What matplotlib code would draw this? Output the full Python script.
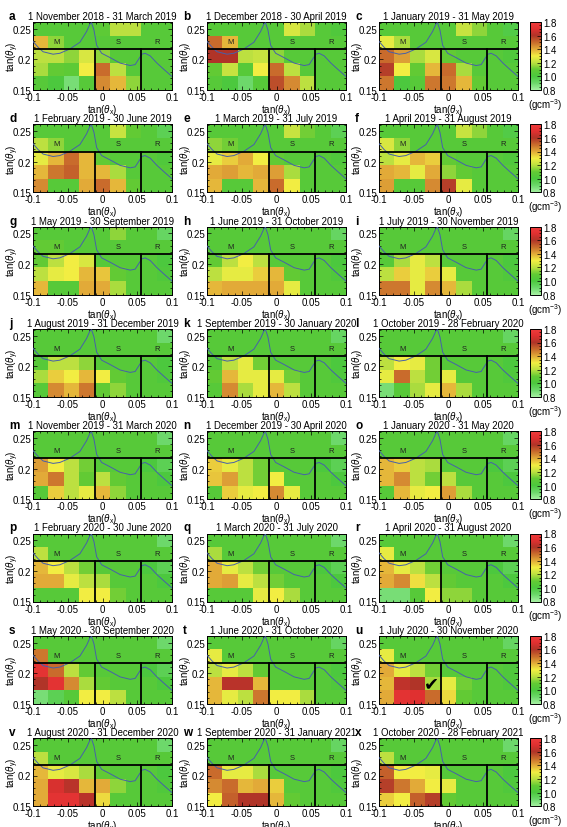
import numpy as np
import matplotlib
matplotlib.use('Agg')
import matplotlib.pyplot as plt
from matplotlib.colors import LinearSegmentedColormap, Normalize
from matplotlib.ticker import FixedLocator, MultipleLocator, FixedFormatter

plt.rcParams['font.family'] = ['Liberation Sans', 'DejaVu Sans']
plt.rcParams['mathtext.fontset'] = 'custom'
plt.rcParams['mathtext.rm'] = 'Liberation Sans'
plt.rcParams['mathtext.it'] = 'Liberation Sans:italic'

# ---------------- data ----------------
letters = list("abcdefghijklmnopqrstuvwx")
titles = [
    "1 November 2018 - 31 March 2019", "1 December 2018 - 30 April 2019", "1 January 2019 - 31 May 2019",
    "1 February 2019 - 30 June 2019", "1 March 2019 - 31 July 2019", "1 April 2019 - 31 August 2019",
    "1 May 2019 - 30 September 2019", "1 June 2019 - 31 October 2019", "1 July 2019 - 30 November 2019",
    "1 August 2019 - 31 December 2019", "1 September 2019 - 30 January 2020", "1 October 2019 - 28 February 2020",
    "1 November 2019 - 31 March 2020", "1 December 2019 - 30 April 2020", "1 January 2020 - 31 May 2020",
    "1 February 2020 - 30 June 2020", "1 March 2020 - 31 July 2020", "1 April 2020 - 31 August 2020",
    "1 May 2020 - 30 September 2020", "1 June 2020 - 31 October 2020", "1 July 2020 - 30 November 2020",
    "1 August 2020 - 31 December 2020", "1 September 2020 - 31 January 2021", "1 October 2020 - 28 February 2021",
]

# density maps (g cm^-3), rows listed top -> bottom, 9 columns left -> right
G = 1.05
dens_a = [[G, G, G, G, 1.08, 1.2, 1.2, G, G],
          [1.38, 1.15, G, G, G, G, G, G, G],
          [1.2, 1.2, 1.15, 1.25, 1.15, G, G, G, G],
          [1.18, 1.1, 1.08, 1.3, 1.5, 1.2, G, G, G],
          [G, 1.0, 0.88, G, 1.45, 1.38, 1.15, G, G]]
dens_b = [[G, G, G, G, G, 1.25, 1.18, G, 1.02],
          [1.5, 1.38, G, G, G, G, G, G, G],
          [1.6, 1.6, 1.2, 1.22, 1.15, G, G, G, G],
          [1.1, 1.22, G, 1.3, 1.5, 1.2, G, G, G],
          [G, 1.0, 0.9, G, 1.55, 1.45, 1.2, G, G]]
dens_c = [[G, G, G, G, G, 1.22, 1.15, G, 0.98],
          [1.28, 1.18, G, G, G, G, G, G, G],
          [1.5, 1.42, 1.18, 1.25, 1.1, G, G, G, 1.02],
          [1.58, 1.3, 1.1, 1.38, 1.5, 1.18, G, G, G],
          [1.48, 1.0, G, 1.48, 1.48, 1.38, 1.1, G, G]]
dens_d = [[G, G, G, G, G, 1.22, 1.1, G, 0.95],
          [1.2, 1.15, G, G, G, G, G, G, G],
          [1.28, 1.38, 1.5, 1.38, 1.1, G, G, G, 1.02],
          [1.38, 1.48, 1.52, 1.38, 1.38, 1.18, G, G, G],
          [1.45, G, G, 1.4, 1.5, 1.38, 1.1, G, G]]
dens_e = [[G, G, G, G, G, 1.22, 1.12, G, 0.95],
          [1.15, 1.12, G, G, G, G, G, G, G],
          [1.28, 1.35, 1.4, 1.3, 1.1, G, G, G, 1.02],
          [1.4, 1.42, 1.38, 1.4, 1.42, 1.18, G, G, G],
          [1.38, G, G, 1.38, 1.5, 1.3, G, G, G]]
dens_f = [[G, G, G, G, G, 1.22, 1.15, G, 0.98],
          [1.25, 1.15, G, G, G, G, G, G, G],
          [1.2, 1.28, 1.38, 1.35, 1.1, G, G, G, 1.02],
          [1.4, 1.38, 1.28, 1.4, 1.15, 1.1, G, G, G],
          [1.42, G, G, 1.45, 1.58, 1.28, G, G, G]]
dens_g = [[G, G, G, G, G, 1.15, G, G, 0.92],
          [1.1, 1.1, G, G, G, G, G, G, G],
          [1.1, 1.2, 1.3, 1.25, G, G, G, G, 1.0],
          [1.2, 1.28, 1.3, 1.38, 1.36, 1.1, G, G, 1.02],
          [1.38, G, G, 1.4, 1.4, 1.18, G, G, G]]
dens_h = [[G, G, G, G, G, G, G, G, 0.92],
          [G, G, G, G, G, G, G, G, G],
          [1.1, 1.2, 1.3, 1.2, G, G, G, G, 1.0],
          [1.2, 1.28, 1.28, 1.35, 1.38, 1.1, G, G, 1.02],
          [1.38, 1.4, 1.4, 1.4, 1.4, 1.28, G, G, G]]
dens_i = [[G, G, G, G, G, G, G, G, 0.92],
          [G, G, G, G, G, G, G, G, G],
          [G, 1.18, 1.28, 1.2, G, G, G, G, 1.0],
          [1.2, 1.35, 1.28, 1.35, 1.28, G, G, G, 1.02],
          [1.48, 1.48, 1.28, 1.45, 1.38, 1.18, G, G, G]]
dens_j = [[G, G, G, G, G, G, G, G, 0.9],
          [G, G, G, G, G, G, G, G, G],
          [G, 1.2, 1.2, 1.15, G, G, G, G, 1.0],
          [1.18, 1.35, 1.3, 1.38, 1.3, 1.1, G, G, 1.02],
          [G, 1.45, 1.38, 1.48, 1.1, 1.15, G, G, G]]
dens_k = [[G, G, G, G, G, G, G, G, 0.92],
          [G, G, G, G, G, G, G, G, G],
          [G, 1.2, 1.28, 1.12, G, G, G, G, 1.0],
          [1.1, 1.38, 1.28, 1.28, 1.28, 1.12, G, G, 1.02],
          [G, 1.45, 1.18, 1.28, 1.38, 1.2, G, G, G]]
dens_l = [[G, G, G, G, G, G, G, G, 0.92],
          [G, G, G, G, G, G, G, G, G],
          [1.2, 1.3, 1.28, 1.12, G, G, G, G, 1.0],
          [1.28, 1.5, 1.2, 1.12, 1.28, G, G, G, 1.02],
          [0.88, G, 1.18, 1.28, 1.38, 1.18, G, G, G]]
dens_m = [[G, G, G, G, G, G, G, G, 0.9],
          [G, G, G, G, G, G, G, G, G],
          [1.42, 1.3, 1.2, 1.12, G, G, G, 1.0, 0.95],
          [1.4, 1.48, 1.2, 1.1, 1.2, 1.1, G, G, 1.0],
          [G, 1.35, 1.2, 1.28, 1.38, 1.15, G, G, G]]
dens_n = [[G, G, G, G, G, G, G, G, 0.9],
          [G, G, G, G, G, G, G, G, G],
          [1.35, 1.28, 1.2, 1.12, G, G, G, 1.0, 0.95],
          [1.36, 1.42, 1.2, 1.12, 1.3, G, G, G, 1.0],
          [G, 1.35, 1.28, 1.3, 1.45, 1.28, G, G, G]]
dens_o = [[G, G, G, G, G, G, G, G, 0.92],
          [G, G, G, G, G, G, G, G, G],
          [1.38, 1.35, 1.2, 1.18, G, G, G, 1.0, 0.95],
          [1.38, 1.45, 1.2, 1.12, 1.2, G, G, G, 1.0],
          [G, 1.38, 1.28, 1.3, 1.42, 1.18, G, G, G]]
dens_p = [[G, G, G, G, G, G, G, G, 0.9],
          [1.2, G, G, G, G, G, G, G, G],
          [1.38, 1.3, 1.2, 1.12, G, G, G, 1.0, 0.95],
          [1.4, 1.4, 1.28, 1.2, 1.18, G, G, G, 1.0],
          [G, G, G, 1.3, 1.3, 1.12, G, G, G]]
dens_q = [[G, G, G, G, G, G, G, G, 0.9],
          [1.18, G, G, G, G, G, G, G, G],
          [1.4, 1.28, 1.2, 1.12, G, G, G, 1.0, 0.95],
          [1.4, 1.42, 1.28, 1.2, 1.12, G, G, G, 1.0],
          [G, G, G, 1.28, 1.3, 1.18, G, G, G]]
dens_r = [[G, G, G, G, G, G, G, G, 0.9],
          [1.28, G, G, G, G, G, G, G, G],
          [1.38, 1.28, 1.2, 1.12, G, G, G, 1.0, 0.95],
          [1.4, 1.45, 1.32, 1.2, 1.1, G, G, G, 1.0],
          [0.88, 0.88, G, 1.3, 1.15, 1.15, G, G, G]]
dens_s = [[G, G, G, G, G, G, G, G, 0.9],
          [1.48, G, G, G, G, G, G, G, G],
          [1.72, 1.5, 1.2, 1.1, G, G, G, 1.0, 0.95],
          [1.6, 1.72, 1.45, 1.18, 1.1, G, G, G, 1.0],
          [0.88, 0.95, G, 1.3, 1.3, 1.2, G, G, G]]
dens_t = [[G, G, G, G, G, G, G, G, 0.92],
          [1.28, G, G, G, G, G, G, G, G],
          [1.2, 1.28, 1.2, 1.1, G, G, G, G, 1.0],
          [1.38, 1.62, 1.62, 1.38, G, G, G, G, 1.02],
          [1.38, 1.28, 1.2, 1.48, 1.3, 1.3, 1.18, G, G]]
dens_u = [[G, G, G, G, G, G, G, G, 0.92],
          [1.28, G, G, G, G, G, G, G, G],
          [1.4, 1.28, 1.2, 1.12, G, G, G, G, 1.02],
          [1.38, 1.63, 1.6, 1.18, 1.28, 1.12, G, G, 1.02],
          [1.4, 1.72, 1.7, 1.5, 1.33, 1.1, G, G, G]]
dens_v = [[G, G, G, G, G, G, G, G, 0.9],
          [1.2, G, G, G, G, G, G, G, G],
          [1.38, 1.28, 1.25, 1.18, 1.1, G, G, G, 1.0],
          [1.4, 1.68, 1.62, 1.38, 1.4, 1.15, G, G, 1.02],
          [1.4, 1.72, 1.72, 1.62, 1.33, G, G, G, G]]
dens_w = [[G, G, G, G, G, G, G, G, 0.92],
          [G, G, G, G, G, G, G, G, G],
          [1.5, 1.28, 1.28, 1.18, G, G, G, G, 1.0],
          [1.45, 1.5, 1.38, 1.4, 1.35, G, G, G, 1.02],
          [1.3, 1.52, 1.6, 1.6, 1.38, 1.1, G, G, G]]
dens_x = [[G, G, G, G, G, G, G, G, 0.9],
          [1.2, G, G, G, G, G, G, G, G],
          [1.52, 1.3, 1.3, 1.28, G, G, G, G, 1.0],
          [1.58, 1.48, 1.4, 1.3, 1.28, G, G, G, 1.02],
          [1.35, 1.3, 1.52, 1.58, 1.1, G, G, G, G]]

maps = [dens_a, dens_b, dens_c, dens_d, dens_e, dens_f, dens_g, dens_h, dens_i,
        dens_j, dens_k, dens_l, dens_m, dens_n, dens_o, dens_p, dens_q, dens_r,
        dens_s, dens_t, dens_u, dens_v, dens_w, dens_x]

# mountain profile (tan theta_x, tan theta_y)
profile_x = [-0.1, -0.0928, -0.0855, -0.0711, -0.0614, -0.047, -0.0325, -0.0229, -0.018,
             -0.0157, -0.0123, -0.0084, -0.0012, 0.0108, 0.0253, 0.0398, 0.047, 0.0518,
             0.0566, 0.0614, 0.0687, 0.0783, 0.088, 0.1]
profile_y = [0.2295, 0.220, 0.2125, 0.2085, 0.210, 0.217, 0.228, 0.2455, 0.258,
             0.2597, 0.248, 0.223, 0.210, 0.203, 0.194, 0.190, 0.1915, 0.200,
             0.2085, 0.210, 0.2057, 0.194, 0.184, 0.172]

region_labels = ["M", "S", "R"]
region_label_x = [-0.0667, 0.0222, 0.078]

x_ticks = [-0.1, -0.05, 0, 0.05, 0.1]
x_tick_labels = ["-0.1", "-0.05", "0", "0.05", "0.1"]
y_ticks = [0.15, 0.2, 0.25]
y_tick_labels = ["0.15", "0.2", "0.25"]
cbar_ticks = [0.8, 1.0, 1.2, 1.4, 1.6, 1.8]
cbar_tick_labels = ["0.8", "1.0", "1.2", "1.4", "1.6", "1.8"]

# ---------------- style ----------------
cmap = LinearSegmentedColormap.from_list("dens", [
    (0.0, "#a4f0a0"), (0.1, "#6cd86a"), (0.2, "#4cc83e"), (0.3, "#62ca34"),
    (0.4, "#bce040"), (0.5, "#f2ee42"), (0.6, "#e2aa38"), (0.7, "#c96c2c"),
    (0.8, "#b03428"), (0.9, "#e03030"), (1.0, "#f03c3c")])
norm = Normalize(0.8, 1.8)

W, H = 567, 828
fig = plt.figure(figsize=(W / 100, H / 100), dpi=100)
fig.patch.set_facecolor("white")

col_left = [33, 207, 379]
ax_w, ax_h = 139, 68
row_top0, pitch = 23, 102.3
cb_left, cb_w = 530, 11

x_edges = np.linspace(-0.1, 0.1, 10)
y_edges = 0.15 + np.arange(6) * (0.2 / 9)

def px(l, t, w, h):
    return [l / W, 1 - (t + h) / H, w / W, h / H]

for idx, (dmap, title, letter) in enumerate(zip(maps, titles, letters)):
    r, c = divmod(idx, 3)
    top = row_top0 + r * pitch
    left = col_left[c]
    ax = fig.add_axes(px(left, top, ax_w, ax_h))
    vals = np.flipud(np.array(dmap))
    mesh = ax.pcolormesh(x_edges, y_edges, vals, cmap=cmap, norm=norm, shading="flat")
    ax.plot(profile_x, profile_y, color="#4660aa", lw=0.7, zorder=3)
    ax.plot([-0.1, 0.1], [y_edges[3], y_edges[3]], color="black", lw=1.3, zorder=4)
    for xe in (x_edges[4], x_edges[7]):
        ax.plot([xe, xe], [0.15, y_edges[3]], color="black", lw=1.3, zorder=4)
    ymid = 0.229
    for lab, lx in zip(region_labels, region_label_x):
        ax.text(lx, ymid, lab, fontsize=5.5, ha="center", va="center", color="#202020", zorder=5)
    ax.set_xlim(-0.1, 0.1)
    ax.set_ylim(0.15, y_edges[-1])
    ax.xaxis.set_major_locator(FixedLocator(x_ticks))
    ax.xaxis.set_major_formatter(FixedFormatter(x_tick_labels))
    ax.yaxis.set_major_locator(FixedLocator(y_ticks))
    ax.yaxis.set_major_formatter(FixedFormatter(y_tick_labels))
    ax.xaxis.set_minor_locator(MultipleLocator(0.01))
    ax.yaxis.set_minor_locator(MultipleLocator(0.01))
    ax.tick_params(which="both", direction="in", top=True, right=True, labelsize=7, width=0.5)
    ax.tick_params(which="major", length=3, pad=1.5)
    ax.tick_params(which="minor", length=1.5)
    for sp in ax.spines.values():
        sp.set_linewidth(0.7)
    ax.set_xlabel(r"tan($\theta_\mathrm{x}$)", fontsize=7, labelpad=0)
    ax.set_ylabel(r"tan($\theta_\mathrm{y}$)", fontsize=7)
    ax.yaxis.label.set_verticalalignment("center")
    ax.yaxis.set_label_coords(-20 / ax_w, 0.5)
    fig.text((left + ax_w / 2) / W, 1 - (top - 6) / H, title, fontsize=6.9,
             ha="center", va="center")
    fig.text((left - 24) / W, 1 - (top - 6) / H, letter, fontsize=8.5, fontweight="bold",
             ha="left", va="center")
    if letter == "u":
        ax.text(-0.025, 0.183, "\u2714", fontsize=13, ha="center", va="center",
                color="black", family="DejaVu Sans", zorder=6)
    if c == 2:
        cax = fig.add_axes(px(cb_left, top, cb_w, ax_h))
        cb = fig.colorbar(mesh, cax=cax)
        cb.set_ticks(cbar_ticks)
        cb.set_ticklabels(cbar_tick_labels)
        cb.ax.yaxis.set_minor_locator(MultipleLocator(0.05))
        cb.ax.tick_params(which="both", direction="in", labelsize=7, pad=1.5, width=0.5)
        cb.ax.tick_params(which="major", length=3)
        cb.ax.tick_params(which="minor", length=1.5)
        cb.outline.set_linewidth(0.7)
        fig.text((cb_left + 15) / W, 1 - (top + ax_h + 14) / H, r"(gcm$^{-3}$)",
                 fontsize=7, ha="center", va="center")

fig.savefig("out.png", dpi=100)
